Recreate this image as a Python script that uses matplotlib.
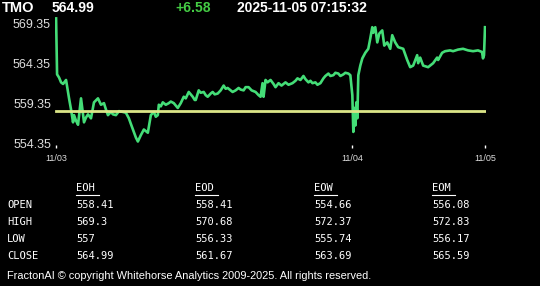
import numpy as np
import matplotlib.pyplot as plt

# header
symbol = 'TMO'
last_price = '564.99'
change = '+6.58'
stamp = '2025-11-05 07:15:32'

# price trace (x = bar position, y = price)
pos = [0, 1, 3, 5, 7, 10, 13, 15, 17, 18, 20, 22, 25, 28, 30, 32, 35, 38, 42, 45,
       48, 50, 52, 55, 57, 60, 63, 67, 70, 73, 75, 78, 80, 82, 85, 88, 92, 95, 98,
       100, 102, 103, 105, 107, 110, 113, 115, 118, 120, 122, 125, 128, 130, 133, 135,
       137, 139, 140, 143, 145, 148, 150, 152, 155, 157, 159, 162, 165, 168, 170, 172,
       175, 177, 180, 183, 185, 188, 190, 193, 196, 200, 203, 205, 207, 208, 210, 212,
       215, 218, 220, 223, 226, 230, 233, 237, 240, 242, 245, 248, 250, 253, 255, 257,
       260, 262, 265, 268, 270, 273, 275, 278, 280, 283, 285, 288, 290, 293, 295, 297,
       298, 299, 300, 301, 302, 303, 305, 307, 310, 313, 315, 317, 318, 320, 322, 324,
       327, 329, 332, 335, 337, 340, 343, 348, 352, 355, 358, 362, 363, 365, 368, 373,
       378, 382, 383, 387, 390, 395, 398, 403, 408, 413, 418, 423, 427, 428, 429, 430]
price = [570.0, 563.0, 562.6, 562.0, 561.8, 562.3, 560.0, 558.6, 557.0, 557.9, 557.2,
         556.7, 560.0, 557.0, 557.6, 558.0, 557.5, 559.5, 560.0, 559.2, 559.4, 558.6,
         557.9, 558.3, 558.0, 557.9, 558.4, 558.3, 558.2, 557.5, 556.8, 555.8, 555.1,
         554.6, 555.4, 556.1, 555.7, 557.9, 558.3,
         557.7, 557.9, 559.2, 559.0, 559.5, 559.2, 559.4, 559.6, 559.4, 559.1, 558.8,
         559.4, 560.2, 560.0, 560.8, 560.5, 560.2, 559.8, 559.8, 561.0, 560.7, 560.8,
         560.4, 560.2, 560.6, 560.8, 560.5, 560.6, 561.0, 561.6, 561.2, 561.3, 561.0,
         560.8, 561.0, 561.3, 561.1, 561.0, 561.4, 561.4, 561.0, 560.8, 560.4, 560.2,
         561.9, 560.2, 562.3, 562.0, 562.3, 561.8, 561.4, 561.9, 561.6, 562.0, 561.7,
         561.9, 562.2, 562.5, 562.3, 562.8, 562.4, 562.0, 562.2, 561.9, 562.0, 561.7,
         561.9, 562.5, 562.8, 563.1, 562.8, 562.9, 563.2, 563.1, 562.8, 563.0, 563.2,
         563.1, 562.9, 560.4, 555.8, 558.8, 556.6, 559.5, 557.5, 562.9, 564.1, 565.0,
         565.7, 566.2, 567.5, 568.9, 568.2, 568.9, 567.0, 568.1, 568.5, 566.6, 567.0,
         566.2, 567.9, 567.0, 566.4, 566.2, 564.8, 563.9, 564.1, 565.4, 564.4, 565.1,
         564.1, 563.9, 564.4, 565.1, 564.8, 565.7, 565.9, 566.0, 565.9, 566.1, 566.2,
         566.0, 565.9, 566.0, 565.8, 565.0, 565.4, 568.9]
open_level = 558.41

day_pos = [0, 297, 430]
day_labels = ['11/03', '11/04', '11/05']
y_ticks = [554.35, 559.35, 564.35, 569.35]

# summary table
col_names = ['EOH', 'EOD', 'EOW', 'EOM']
row_names = ['OPEN', 'HIGH', 'LOW', 'CLOSE']
table_vals = [['558.41', '558.41', '554.66', '556.08'],
              ['569.3', '570.68', '572.37', '572.83'],
              ['557', '556.33', '555.74', '556.17'],
              ['564.99', '561.67', '563.69', '565.59']]

plt.rcParams['font.family'] = ['Liberation Sans', 'DejaVu Sans']

fig = plt.figure(figsize=(5.4, 2.86), dpi=100, facecolor='black')
ax = fig.add_axes([0.102, 0.494, 0.798, 0.45], facecolor='black')

ax.plot(pos, price, color='#44dd77', lw=1.9, solid_joinstyle='round')
ax.plot([pos[0], pos[-1]], [open_level, open_level], color='#dbe687', lw=2)

ax.set_xlim(pos[0] - 1, pos[-1] + 1)
ax.set_ylim(554.2, 570.3)
ax.set_yticks(y_ticks)
ax.set_yticklabels([f'{v:.2f}' for v in y_ticks])
ax.set_xticks(day_pos)
ax.set_xticklabels(day_labels)
ax.tick_params(axis='y', colors='#dddddd', labelsize=9, length=0, pad=3)
ax.tick_params(axis='x', colors='white', labelsize=6.5, length=2, width=1, pad=5,
               labelcolor='#dddddd')
for s in ax.spines.values():
    s.set_visible(False)

# header line
fig.text(2 / 540, 1 - 8 / 286, symbol, color='white', fontsize=10.5, weight='bold', va='center')
fig.text(52 / 540, 1 - 8 / 286, last_price, color='white', fontsize=10, weight='bold', va='center')
fig.text(175 / 540, 1 - 8 / 286, change, color='#44cc44', fontsize=10, weight='bold', va='center')
fig.text(237 / 540, 1 - 8 / 286, stamp, color='white', fontsize=10, weight='bold', va='center')

# table
mono = ['DejaVu Sans Mono']
col_x = [76, 195, 314, 432]
row_y = [205, 222, 239, 256]
for cx, name in zip(col_x, col_names):
    fig.text(cx / 540, 1 - 188 / 286, name, color='white', fontsize=7.5, family=mono, va='center')
    fig.add_artist(plt.Line2D([cx / 540, (cx + 23) / 540], [1 - 195 / 286, 1 - 195 / 286],
                              color='white', lw=0.8))
for ry, rname, vals in zip(row_y, row_names, table_vals):
    fig.text(7 / 540, 1 - ry / 286, rname, color='white', fontsize=7.5, family=mono, va='center')
    for cx, v in zip(col_x, vals):
        fig.text(cx / 540, 1 - ry / 286, v, color='white', fontsize=7.5, family=mono, va='center')

fig.text(7 / 540, 1 - 276 / 286,
         'FractonAI \u00a9 copyright Whitehorse Analytics 2009-2025. All rights reserved.',
         color='white', fontsize=7.9, va='center')

fig.savefig('out.png', dpi=100, facecolor='black')
